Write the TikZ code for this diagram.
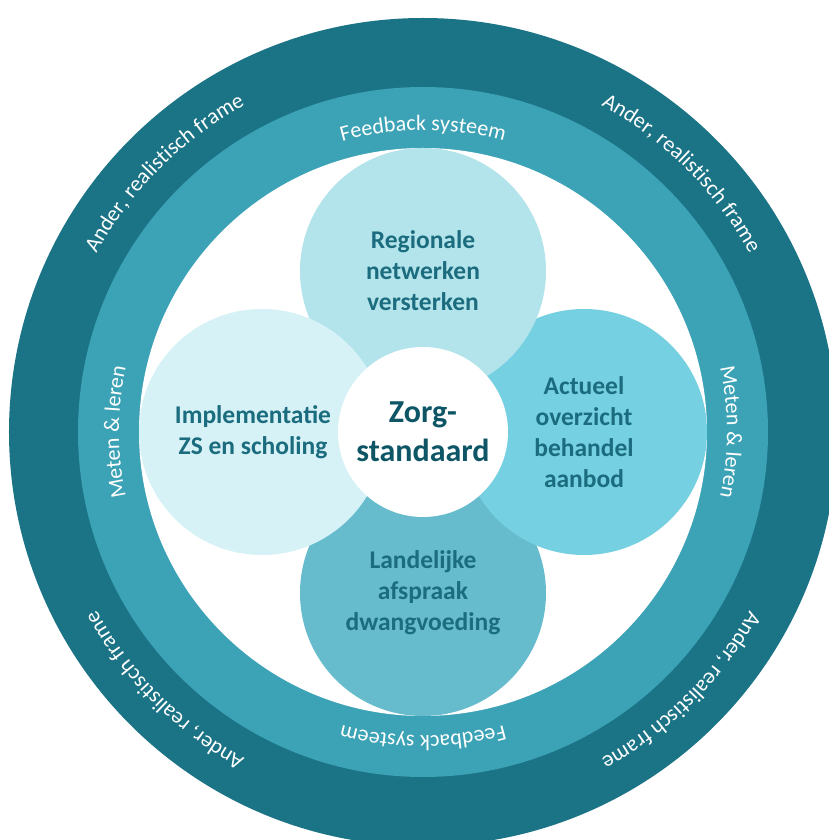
\documentclass[tikz,border=0pt]{standalone}
\usepackage{fontspec}
\setmainfont{Carlito}
\usetikzlibrary{decorations.text}
\definecolor{ringdark}{HTML}{1B7386}
\definecolor{ringmid}{HTML}{3CA2B5}
\definecolor{petaltop}{HTML}{B3E4EB}
\definecolor{petalleft}{HTML}{D6F2F6}
\definecolor{petalright}{HTML}{75D0E1}
\definecolor{petalbot}{HTML}{66BCCD}
\definecolor{petaltext}{HTML}{1A6C7E}
\definecolor{coretext}{HTML}{0E5566}
\tikzset{
  petal/.style={circle, minimum size=246pt, inner sep=0pt, align=center,
    text=petaltext, font=\bfseries\fontsize{25.5}{31}\selectfont},
  ringtext/.style={decorate, decoration={text along path, text align=center,
    text={|\fontsize{22}{26}\selectfont\color{white}|#1}}}
}
\begin{document}
\begin{tikzpicture}[x=1pt,y=1pt]
  \clip (-423,-408) rectangle (406,432);
  \fill[ringdark] (0,0) circle[radius=414];
  \fill[ringmid] (0,0) circle[radius=345];
  \fill[white] (0,0) circle[radius=284];
  % petals, last one on top
  \node[petal, fill=petalbot] (landelijk) at (270:161) {Landelijke\\afspraak\\dwangvoeding};
  \node[petal, fill=petalright] (actueel) at (0:161) {Actueel\\overzicht\\behandel\\aanbod};
  \node[petal, fill=petaltop] (regionaal) at (90:161) {Regionale\\netwerken\\versterken};
  \node[petal, fill=petalleft] (implementatie) at (180:161)
    {Implementatie\hspace*{18pt}\\ZS en scholing\hspace*{18pt}};
  \node[circle, fill=white, minimum size=170pt, inner sep=0pt, align=center,
    text=coretext, font=\bfseries\fontsize{32}{39}\selectfont] (zorg) at (0,0) {Zorg-\\standaard};
  % middle ring
  \path[ringtext={Feedback systeem}] (120:302) arc[start angle=120, end angle=60, radius=302];
  \path[ringtext={Feedback systeem}] (300:304) arc[start angle=300, end angle=240, radius=304];
  \path[ringtext={Meten {\&} leren}] (210:304) arc[start angle=210, end angle=150, radius=304];
  \path[ringtext={Meten {\&} leren}] (30:304) arc[start angle=30, end angle=-30, radius=304];
  % outer ring
  \path[ringtext={Ander, realistisch frame}] (175:372) arc[start angle=175, end angle=95, radius=372];
  \path[ringtext={Ander, realistisch frame}] (85:372) arc[start angle=85, end angle=5, radius=372];
  \path[ringtext={Ander, realistisch frame}] (-5:372) arc[start angle=-5, end angle=-85, radius=372];
  \path[ringtext={Ander, realistisch frame}] (-95:372) arc[start angle=-95, end angle=-175, radius=372];
\end{tikzpicture}
\end{document}
